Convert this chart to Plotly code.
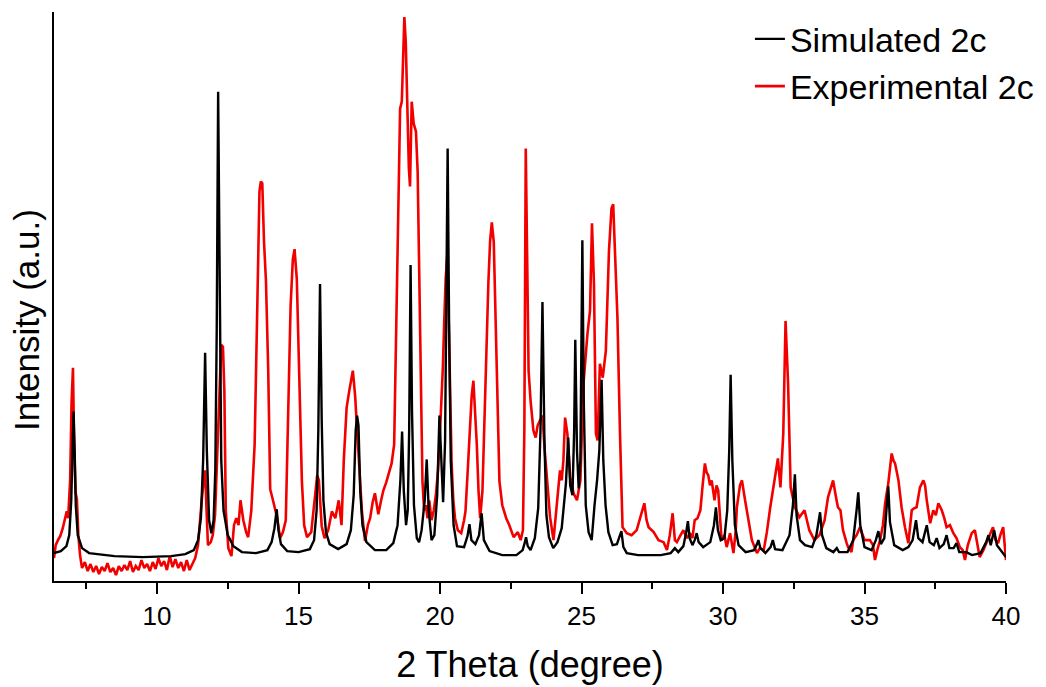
import plotly.graph_objects as go

# Simulated 2c pattern: (2theta, intensity) vertices
sim_points = [
    (6.36, 27), (6.6, 29), (6.8, 34), (6.9, 45), (6.97, 80), (7.01, 140), (7.05, 169), (7.09, 130),
    (7.13, 75), (7.2, 45), (7.35, 32), (7.6, 27), (8.5, 24), (9.5, 23), (10.5, 24), (11.0, 26),
    (11.3, 30), (11.45, 40), (11.55, 62), (11.63, 120), (11.70, 228), (11.76, 130), (11.84, 60),
    (11.92, 47), (12.0, 60), (12.06, 110), (12.11, 250), (12.16, 490), (12.21, 270), (12.27, 120),
    (12.35, 70), (12.5, 45), (12.7, 34), (13.0, 28), (13.5, 27), (13.9, 30), (14.05, 38), (14.15, 52),
    (14.23, 71), (14.29, 50), (14.38, 36), (14.6, 29), (15.0, 28), (15.4, 31), (15.55, 40), (15.64, 70),
    (15.70, 150), (15.76, 297), (15.82, 160), (15.88, 80), (15.97, 48), (16.1, 36), (16.4, 31),
    (16.7, 36), (16.85, 50), (16.95, 85), (17.02, 150), (17.07, 165), (17.12, 155), (17.18, 90),
    (17.26, 55), (17.4, 38), (17.7, 30), (18.1, 30), (18.35, 37), (18.5, 55), (18.6, 100), (18.66, 149),
    (18.72, 90), (18.8, 55), (18.86, 70), (18.91, 150), (18.96, 316), (19.01, 170), (19.08, 75),
    (19.18, 42), (19.26, 38), (19.35, 50), (19.46, 80), (19.53, 121), (19.6, 70), (19.7, 40), (19.8, 45),
    (19.9, 85), (19.98, 165), (20.05, 110), (20.11, 78), (20.18, 140), (20.23, 280), (20.27, 433),
    (20.32, 260), (20.38, 120), (20.48, 55), (20.6, 34), (20.85, 33), (20.97, 44), (21.04, 56),
    (21.11, 40), (21.25, 36), (21.38, 45), (21.47, 67), (21.55, 40), (21.75, 29), (22.2, 25), (22.7, 25),
    (22.92, 30), (23.0, 38), (23.04, 43), (23.1, 34), (23.2, 30), (23.35, 42), (23.47, 72), (23.55, 150),
    (23.62, 279), (23.69, 140), (23.76, 65), (23.85, 43), (24.0, 32), (24.15, 38), (24.3, 52), (24.45, 97),
    (24.53, 143), (24.6, 95), (24.68, 85), (24.74, 150), (24.78, 241), (24.84, 130), (24.9, 92),
    (24.96, 120), (25.0, 220), (25.03, 341), (25.08, 180), (25.15, 75), (25.25, 48), (25.36, 40),
    (25.46, 75), (25.55, 100), (25.63, 130), (25.71, 201), (25.77, 120), (25.85, 75), (25.95, 48),
    (26.1, 35), (26.25, 36), (26.35, 44), (26.41, 49), (26.48, 33), (26.6, 27), (27.0, 25), (27.8, 25),
    (28.15, 27), (28.3, 32), (28.42, 28), (28.6, 34), (28.7, 48), (28.76, 59), (28.82, 42), (28.92, 35),
    (29.0, 40), (29.07, 47), (29.14, 38), (29.3, 33), (29.55, 38), (29.68, 55), (29.75, 73), (29.82, 50),
    (29.92, 40), (30.05, 42), (30.15, 70), (30.22, 130), (30.27, 206), (30.33, 120), (30.42, 55),
    (30.55, 35), (30.8, 28), (31.1, 30), (31.2, 36), (31.25, 40), (31.32, 32), (31.5, 27), (31.68, 33),
    (31.76, 40), (31.84, 31), (32.1, 30), (32.35, 45), (32.47, 75), (32.54, 106), (32.6, 65), (32.72, 40),
    (32.9, 35), (33.15, 33), (33.3, 45), (33.43, 68), (33.5, 45), (33.65, 32), (33.9, 28), (34.02, 32),
    (34.1, 28), (34.4, 28), (34.6, 40), (34.72, 70), (34.78, 88), (34.85, 55), (35.0, 33), (35.25, 30),
    (35.4, 40), (35.49, 49), (35.58, 36), (35.7, 42), (35.78, 75), (35.84, 94), (35.9, 58), (36.05, 35),
    (36.35, 30), (36.55, 33), (36.7, 40), (36.82, 60), (36.9, 42), (37.05, 38), (37.2, 55), (37.3, 38),
    (37.45, 35), (37.55, 42), (37.65, 32), (37.8, 36), (37.9, 45), (38.0, 32), (38.15, 32), (38.25, 37),
    (38.35, 28), (38.6, 28), (38.8, 25), (39.1, 27), (39.3, 38), (39.38, 45), (39.46, 35), (39.58, 50),
    (39.68, 35), (39.85, 28), (39.97, 24), (40.0, 24),
]

# Experimental 2c pattern: (2theta, intensity) vertices
exp_points = [
    (6.36, 22), (6.42, 35), (6.5, 40), (6.58, 44), (6.67, 52), (6.74, 60), (6.81, 69), (6.86, 62),
    (6.93, 100), (6.98, 177), (7.03, 213), (7.07, 138), (7.12, 88), (7.17, 81), (7.22, 45), (7.28, 25),
    (7.35, 12), (7.45, 18), (7.55, 9), (7.65, 16), (7.75, 8), (7.85, 14), (7.95, 6), (8.05, 13),
    (8.15, 9), (8.25, 17), (8.35, 8), (8.45, 12), (8.55, 5), (8.65, 14), (8.75, 9), (8.85, 15),
    (8.95, 10), (9.05, 19), (9.15, 8), (9.25, 14), (9.35, 10), (9.45, 20), (9.55, 12), (9.65, 16),
    (9.75, 9), (9.85, 18), (9.95, 11), (10.05, 22), (10.15, 14), (10.25, 19), (10.35, 10), (10.45, 24),
    (10.55, 13), (10.65, 21), (10.75, 12), (10.85, 18), (10.95, 9), (11.05, 20), (11.15, 10),
    (11.25, 16), (11.35, 22), (11.45, 35), (11.52, 62), (11.58, 80), (11.65, 100), (11.7, 110),
    (11.75, 70), (11.8, 35), (11.9, 38), (11.97, 45), (12.05, 65), (12.12, 120), (12.2, 200),
    (12.27, 236), (12.33, 234), (12.38, 190), (12.43, 70), (12.52, 32), (12.63, 24), (12.72, 55),
    (12.8, 62), (12.88, 55), (12.95, 80), (13.05, 60), (13.15, 48), (13.22, 43), (13.33, 69),
    (13.45, 136), (13.55, 284), (13.62, 390), (13.67, 400), (13.72, 398), (13.78, 340), (13.85, 300),
    (13.93, 210), (14.0, 91), (14.08, 82), (14.18, 70), (14.25, 62), (14.35, 42), (14.45, 48),
    (14.55, 60), (14.64, 173), (14.72, 275), (14.8, 322), (14.86, 332), (14.94, 302), (15.02, 210),
    (15.12, 99), (15.2, 55), (15.3, 43), (15.45, 48), (15.59, 87), (15.66, 105), (15.72, 100),
    (15.82, 54), (15.92, 42), (16.05, 50), (16.18, 69), (16.3, 62), (16.42, 80), (16.52, 55),
    (16.6, 120), (16.7, 173), (16.8, 191), (16.92, 210), (17.0, 185), (17.1, 132), (17.24, 69),
    (17.35, 39), (17.45, 55), (17.53, 62), (17.62, 78), (17.7, 87), (17.82, 66), (17.92, 80),
    (18.0, 90), (18.1, 98), (18.18, 106), (18.29, 117), (18.38, 136), (18.47, 284), (18.53, 395),
    (18.59, 473), (18.65, 480), (18.71, 543), (18.74, 565), (18.79, 540), (18.84, 480), (18.9, 413),
    (18.94, 395), (19.0, 480), (19.07, 458), (19.15, 450), (19.21, 410), (19.26, 321), (19.32, 173),
    (19.38, 99), (19.44, 70), (19.5, 75), (19.56, 62), (19.62, 80), (19.7, 60), (19.78, 70),
    (19.86, 87), (19.93, 110), (19.98, 136), (20.04, 170), (20.1, 213), (20.15, 260), (20.2, 302),
    (20.26, 328), (20.3, 280), (20.35, 210), (20.41, 117), (20.47, 80), (20.53, 62), (20.63, 50),
    (20.75, 47), (20.85, 60), (20.9, 69), (20.98, 110), (21.05, 154), (21.12, 185), (21.18, 200),
    (21.24, 170), (21.3, 136), (21.36, 90), (21.42, 62), (21.5, 90), (21.56, 150), (21.63, 230),
    (21.71, 299), (21.77, 340), (21.83, 359), (21.9, 339), (21.95, 280), (22.0, 210), (22.05, 150),
    (22.1, 99), (22.2, 75), (22.34, 62), (22.45, 55), (22.6, 43), (22.75, 48), (22.85, 40), (22.93, 50),
    (22.98, 150), (23.03, 433), (23.08, 300), (23.13, 210), (23.2, 180), (23.3, 150), (23.38, 143),
    (23.45, 155), (23.53, 160), (23.62, 165), (23.7, 130), (23.78, 100), (23.89, 63), (24.01, 40),
    (24.13, 80), (24.24, 110), (24.3, 100), (24.36, 120), (24.42, 163), (24.5, 147), (24.6, 103),
    (24.72, 87), (24.84, 80), (24.96, 100), (25.07, 197), (25.15, 230), (25.21, 247), (25.3, 270),
    (25.37, 358), (25.44, 297), (25.51, 147), (25.57, 140), (25.65, 217), (25.75, 203), (25.86, 230),
    (25.97, 330), (26.06, 373), (26.12, 377), (26.18, 337), (26.27, 263), (26.36, 147), (26.45, 53),
    (26.6, 47), (26.77, 45), (26.95, 50), (27.07, 63), (27.15, 70), (27.22, 77), (27.3, 60),
    (27.37, 53), (27.55, 48), (27.72, 40), (27.9, 38), (28.02, 30), (28.12, 45), (28.22, 67),
    (28.3, 40), (28.37, 38), (28.5, 45), (28.6, 50), (28.72, 42), (28.83, 47), (28.92, 42), (29.0, 60),
    (29.1, 62), (29.2, 70), (29.28, 95), (29.36, 117), (29.42, 108), (29.48, 105), (29.54, 95),
    (29.6, 100), (29.7, 80), (29.77, 95), (29.83, 90), (29.95, 40), (30.05, 45), (30.13, 33),
    (30.25, 47), (30.37, 27), (30.45, 50), (30.49, 73), (30.6, 95), (30.67, 100), (30.78, 80),
    (30.9, 60), (31.02, 40), (31.2, 27), (31.3, 32), (31.44, 30), (31.55, 48), (31.67, 73), (31.8, 97),
    (31.9, 115), (31.94, 122), (32.03, 93), (32.13, 147), (32.21, 260), (32.3, 197), (32.39, 93),
    (32.54, 73), (32.7, 63), (32.88, 70), (33.05, 50), (33.23, 40), (33.41, 45), (33.59, 60),
    (33.71, 83), (33.8, 92), (33.89, 100), (33.98, 85), (34.06, 73), (34.15, 70), (34.24, 50),
    (34.37, 37), (34.42, 33), (34.54, 28), (34.6, 40), (34.72, 45), (34.84, 53), (35.0, 40),
    (35.19, 40), (35.3, 35), (35.37, 20), (35.45, 30), (35.55, 40), (35.65, 55), (35.73, 77),
    (35.84, 97), (35.9, 110), (35.96, 127), (36.02, 120), (36.08, 117), (36.2, 100), (36.31, 73),
    (36.43, 53), (36.55, 37), (36.67, 70), (36.75, 72), (36.84, 73), (36.96, 93), (37.08, 100),
    (37.14, 95), (37.2, 80), (37.32, 57), (37.43, 70), (37.52, 65), (37.61, 77), (37.73, 70),
    (37.82, 62), (37.9, 53), (38.02, 55), (38.14, 47), (38.25, 42), (38.37, 33), (38.47, 30),
    (38.55, 20), (38.65, 35), (38.79, 47), (38.9, 50), (38.98, 35), (39.07, 23), (39.2, 30), (39.3, 37),
    (39.42, 45), (39.54, 53), (39.63, 40), (39.72, 37), (39.8, 45), (39.9, 53), (39.97, 30), (40.0, 20),
]

sim_theta = [p[0] for p in sim_points]
sim_intensity = [p[1] for p in sim_points]
exp_theta = [p[0] for p in exp_points]
exp_intensity = [p[1] for p in exp_points]

x_ticks = [10, 15, 20, 25, 30, 35, 40]
x_minor_ticks = [7.5, 12.5, 17.5, 22.5, 27.5, 32.5, 37.5]
series_names = ["Simulated 2c", "Experimental 2c"]

FONT = "Liberation Sans, Arial, Helvetica, sans-serif"

fig = go.Figure()
fig.add_trace(go.Scatter(
    x=exp_theta, y=exp_intensity, mode="lines", name=series_names[1],
    line=dict(color="#f20000", width=2.6), legendrank=2,
))
fig.add_trace(go.Scatter(
    x=sim_theta, y=sim_intensity, mode="lines", name=series_names[0],
    line=dict(color="#000000", width=2.4), legendrank=1,
))

# page body has an 8px margin: figure is 1038x679 so it fills the 1046x687 window
fig.update_layout(
    width=1038, height=679,
    margin=dict(l=46, r=40, t=2, b=106),
    paper_bgcolor="white", plot_bgcolor="white",
    font=dict(family=FONT, color="black"),
    showlegend=True,
    legend=dict(
        x=0.731, y=1.003, xanchor="left", yanchor="top",
        font=dict(family=FONT, size=34, color="black"),
        bgcolor="rgba(0,0,0,0)", borderwidth=0, tracegroupgap=0,
    ),
    xaxis=dict(
        range=[6.36, 40], tickvals=x_ticks, ticktext=[str(v) for v in x_ticks],
        showgrid=False, zeroline=False, showline=True, linecolor="black", linewidth=2,
        ticks="outside", ticklen=11, tickwidth=2, tickcolor="black",
        minor=dict(tickvals=x_minor_ticks, ticks="outside",
                   ticklen=6, tickwidth=2, tickcolor="black", showgrid=False),
        tickfont=dict(family=FONT, size=26, color="black"),
        title=dict(text="2 Theta (degree)", font=dict(family=FONT, size=36, color="black"), standoff=22),
    ),
    yaxis=dict(
        range=[-1, 570], showgrid=False, zeroline=False, showline=True, linecolor="black",
        linewidth=2, ticks="", showticklabels=False,
    ),
    annotations=[dict(
        text="Intensity (a.u.)", textangle=-90, xref="paper", yref="paper",
        x=(27 - 54) / 952, y=(581 - 319) / 571, xanchor="center", yanchor="middle",
        showarrow=False, font=dict(family=FONT, size=35, color="black"),
    )],
)

fig.write_html("out.html")
